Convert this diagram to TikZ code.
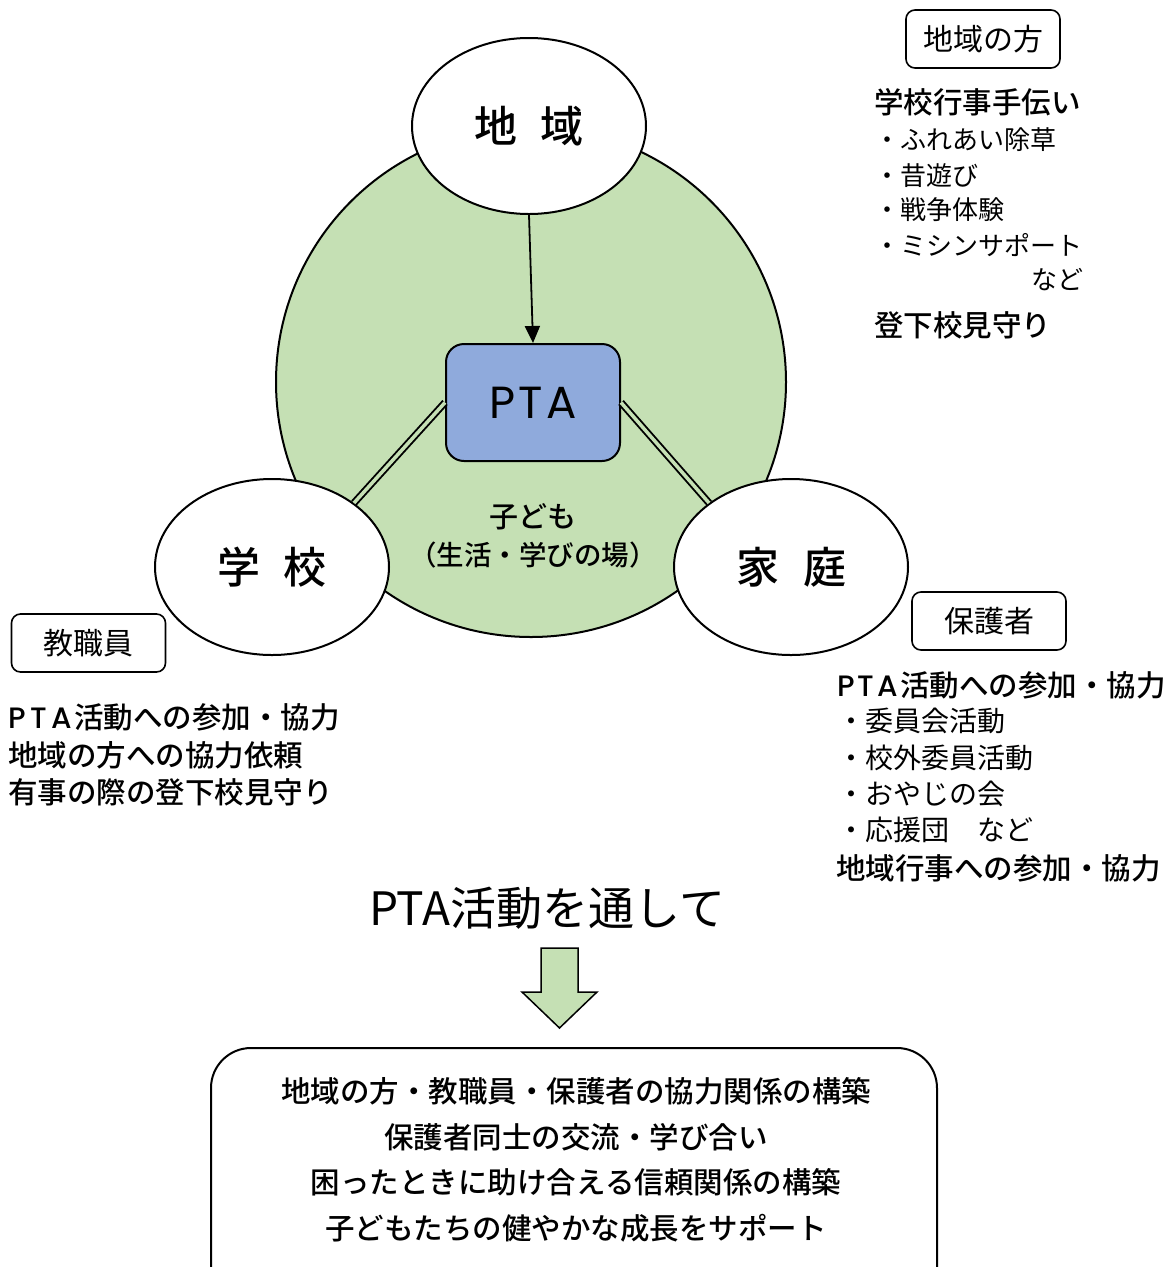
\documentclass[tikz,border=0pt]{standalone}
\usepackage{fontspec}
\setmainfont{Noto Sans CJK JP}[BoldFont={Noto Sans CJK JP Medium}]
\newfontfamily\ptafont{Poppins}[BoldFont={Poppins Medium}]
\usetikzlibrary{shapes.geometric,arrows.meta}
\definecolor{kgreen}{HTML}{C5E0B4}
\definecolor{kblue}{HTML}{8FAADC}
\newcommand{\jfs}[1]{\fontsize{#1}{#1}\selectfont}
\newcommand{\PTA}[1]{\makebox[#1][s]{\ptafont P\hfill T\hfill A}}

\tikzset{
  area/.style={ellipse, draw, line width=2pt, fill=white, minimum width=234pt, minimum height=176pt, font=\bfseries\jfs{43}},
  tag/.style={draw, rounded corners=9pt, line width=1.6pt, minimum width=154pt, minimum height=58pt, font=\jfs{30}},
  head/.style={anchor=west, inner sep=0pt, font=\bfseries\jfs{29.5}},
  item/.style={anchor=west, inner sep=0pt, font=\jfs{26}},
  link/.style={line width=1.9pt, double=kgreen, double distance=3.5pt},
}

\begin{document}
\begin{tikzpicture}[x=1pt,y=-1pt]
\useasboundingbox (0,0) rectangle (1174,1267);
% child area
\draw[line width=2pt, fill=kgreen] (531,382) circle (255);
\node[font=\bfseries\jfs{29}] (kodomo) at (533,517) {子ども};
\node[font=\bfseries\jfs{27.5}] (ba) at (533,555) {（生活・学びの場）};
% three circles
\node[area] (chiiki) at (529,126) {地\hspace{24pt}域};
\node[area] (gakko) at (272,567) {学\hspace{24pt}校};
\node[area] (katei) at (791,567) {家\hspace{24pt}庭};
% PTA
\node[draw, line width=2pt, fill=kblue, rounded corners=18pt, minimum width=174pt, minimum height=117pt, font=\jfs{45}] (pta) at (533,402.5) {\PTA{88pt}};
\draw[line width=1.8pt, -{Triangle[length=17pt,width=15pt]}] (chiiki.south) -- (pta.north);
\draw[link] (pta.west) -- (gakko.38);
\draw[link] (pta.east) -- (katei.142);
% tags
\node[tag] (tChiiki) at (983,39) {地域の方};
\node[tag] (tHogo) at (989,621) {保護者};
\node[tag] (tKyo) at (88.5,643) {教職員};
% chiiki no kata
\node[head] (r1) at (874,102) {学校行事手伝い};
\node[item] (r2) at (874,140) {・ふれあい除草};
\node[item] (r3) at (874,176) {・昔遊び};
\node[item] (r4) at (874,210) {・戦争体験};
\node[item] (r5) at (874,245) {・ミシンサポート};
\node[item, anchor=east] (r6) at (1084,280) {など};
\node[head] (r7) at (874,325) {登下校見守り};
% hogosha
\node[head] (h1) at (837,685) {\PTA{61pt}\hspace{2pt}活動への参加・協力};
\node[item, font=\jfs{28}] (h2) at (837,721) {・委員会活動};
\node[item, font=\jfs{28}] (h3) at (837,758) {・校外委員活動};
\node[item, font=\jfs{28}] (h4) at (837,794) {・おやじの会};
\node[item, font=\jfs{28}] (h5) at (837,830) {・応援団　など};
\node[head] (h6) at (836,868) {地域行事への参加・協力};
% kyoshokuin
\node[head] (k1) at (8,717) {\PTA{64pt}\hspace{2pt}活動への参加・協力};
\node[head] (k2) at (8,755) {地域の方への協力依頼};
\node[head] (k3) at (8,792) {有事の際の登下校見守り};
% bottom
\node[font=\jfs{46}] (tsuu) at (547,908) {PTA活動を通して};
\draw[line width=1.5pt, fill=kgreen] (541,948) -- (578,948) -- (578,992) -- (597,992) -- (559.5,1028) -- (522,992) -- (541,992) -- cycle;
\draw[line width=2pt, rounded corners=40pt] (211,1048) rectangle (937,1330);
\node[align=center, font=\bfseries\fontsize{29.5}{45.5}\selectfont] (goal) at (576,1160) {地域の方・教職員・保護者の協力関係の構築\\保護者同士の交流・学び合い\\困ったときに助け合える信頼関係の構築\\子どもたちの健やかな成長をサポート};
\end{tikzpicture}
\end{document}
